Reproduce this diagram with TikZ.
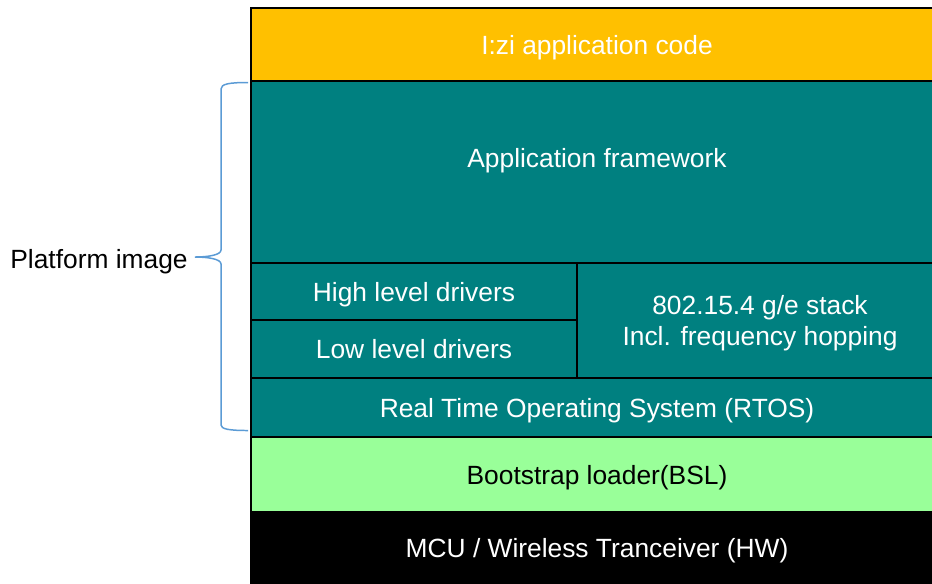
\documentclass[tikz,border=0pt]{standalone}
\usepackage{fontspec}
\setmainfont{Liberation Sans}
\usepackage{xcolor}
\definecolor{izigold}{HTML}{FFC000}
\definecolor{layerteal}{HTML}{008080}
\definecolor{bslgreen}{HTML}{99FF99}
\definecolor{braceblue}{HTML}{5B9BD5}

\begin{document}
\begin{tikzpicture}[
            x = 0.02cm, y = -0.02cm, % one unit per reference pixel
            layer/.style = {shape=rectangle, draw=black, line width=1.6pt,
                            inner sep=0pt, text=white,
                            text height=14pt, text depth=3pt,
                            font=\fontsize{15}{17.6}\selectfont}, % stack boxes
            inlabel/.style = {text=white, align=center,
                              font=\fontsize{15}{17.6}\selectfont}, % off-centre text
            bracestyle/.style = {draw=braceblue, line width=0.85pt} % curly brace
        ]
\useasboundingbox (0,0) rectangle (932,583);

% layers, top to bottom
\node[layer,fill=izigold,minimum width=13.84cm,minimum height=1.46cm] (izi) at (597,44.5) {I:zi application code};
\node[layer,fill=layerteal,minimum width=13.84cm,minimum height=3.64cm,
      label={[inlabel,yshift=0.22cm]center:Application framework}] (appfw) at (597,172) {};
\node[layer,fill=layerteal,minimum width=6.52cm,minimum height=1.14cm] (hld) at (414,291.5) {High level drivers};
\node[layer,fill=layerteal,minimum width=6.52cm,minimum height=1.16cm] (lld) at (414,349) {Low level drivers};
\node[layer,fill=layerteal,minimum width=7.32cm,minimum height=2.3cm,
      label={[inlabel,yshift=-0.06cm]center:802.15.4 g/e stack\\Incl. frequency hopping}] (stack) at (760,320.5) {};
\node[layer,fill=layerteal,minimum width=13.84cm,minimum height=1.18cm] (rtos) at (597,407.5) {Real Time Operating System (RTOS)};
\node[layer,fill=bslgreen,text=black,minimum width=13.84cm,minimum height=1.5cm] (bsl) at (597,474.5) {Bootstrap loader(BSL)};
\node[layer,fill=black,minimum width=13.84cm,minimum height=1.42cm] (mcu) at (597,547.5) {MCU / Wireless Tranceiver (HW)};

% brace round the platform image
\coordinate (bracetop) at (248,82.5);
\coordinate (bracetip) at (195,257);
\coordinate (bracebot) at (248,430.5);
\path[bracestyle] (bracetop) .. controls (229,82.5) and (221,84) .. (221,89)
   -- (221,250) .. controls (221,255) and (208,257) .. (bracetip)
   .. controls (208,257) and (221,259) .. (221,264)
   -- (221,425) .. controls (221,429) and (229,430.5) .. (bracebot);
\node[anchor=east,inner xsep=4pt,yshift=-0.04cm,text height=14pt,text depth=3pt,
      font=\fontsize{15}{17.6}\selectfont] (platform) at (bracetip) {Platform image};
\end{tikzpicture}
\end{document}
